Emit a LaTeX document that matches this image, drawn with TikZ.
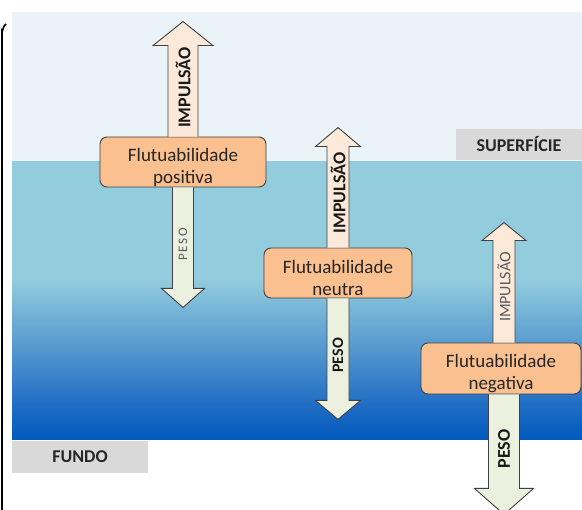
\documentclass[tikz,border=0pt]{standalone}
\usepackage{fontspec}
\setmainfont{Carlito}
\usetikzlibrary{calc}
\definecolor{ceu}{RGB}{234,243,247}
\definecolor{topoazul}{RGB}{146,204,221}
\definecolor{meioazul}{RGB}{82,150,206}
\definecolor{baixoazul}{RGB}{35,112,197}
\definecolor{fundoazul}{RGB}{4,92,190}
\definecolor{caixa}{RGB}{250,192,144}
\definecolor{etiqueta}{RGB}{217,217,217}
\definecolor{sobe}{RGB}{253,233,217}
\definecolor{desce}{RGB}{235,241,222}
\definecolor{borda}{RGB}{64,64,64}
\pgfdeclareverticalshading{agua}{100bp}{color(0bp)=(fundoazul); color(26bp)=(fundoazul); color(32bp)=(baixoazul); color(41bp)=(meioazul); color(54bp)=(topoazul); color(100bp)=(topoazul)}
% seta de forca: base, ponta, meia haste, meia cabeca, base da cabeca, estilo
\newcommand{\seta}[6]{%
\begin{scope}[shift={(#1)}]
\draw[#6] (-#3,0) -- (-#3,#5) -- (-#4,#5) -- (0,#2) -- (#4,#5) -- (#3,#5) -- (#3,0);
\end{scope}}
\newcommand{\desce}{\rule{0pt}{24pt}}

\begin{document}
\begin{tikzpicture}[x=1pt, y=-1pt,
  flut/.style={draw=borda, fill=caixa, rounded corners=7pt, line width=0.9pt, align=center, inner sep=0pt, minimum height=50, text=black!85, font=\fontsize{19}{22}\selectfont},
  nivel/.style={fill=etiqueta, inner sep=0pt, font=\bfseries\fontsize{18}{20}\selectfont, text=black!85},
  forte/.style={rotate=90, font=\bfseries\fontsize{18}{20}\selectfont, text=black!90},
  fraca/.style={rotate=90, text=black!65},
  setasobe/.style={draw=borda, fill=sobe, line width=0.9pt, line join=miter},
  setadesce/.style={draw=borda, fill=desce, line width=0.9pt, line join=miter}]
\useasboundingbox (0,0) rectangle (582,510);
%%%%%%%%% fundo
\fill[ceu] (12,12) rectangle (582,162);
\shade[shading=agua] (12,162) rectangle (582,440);
\draw[line width=1.6pt] (2,510) -- (2,32) to[out=-90,in=200] (6,24);
\node[nivel, minimum width=126, minimum height=31] (sup) at (519,144.5) {SUPERFÍCIE};
\node[nivel, minimum width=136, minimum height=32] (fun) at (80,457) {FUNDO};
%%%%%%%%% caixas
\node[flut, minimum width=166] (b1) at (183,162) {\desce Flutuabilidade\\positiva};
\node[flut, minimum width=148] (b2) at (338,273) {\desce Flutuabilidade\\neutra};
\node[flut, minimum width=160, minimum height=51] (b3) at (501,368.5) {\desce Flutuabilidade\\negativa};
%%%%%%%%% setas
\seta{b1.north}{-115}{15}{30}{-91}{setasobe}
\seta{b1.south}{120}{10.5}{21.5}{101}{setadesce}
\seta{b2.north}{-120}{11}{22.5}{-101}{setasobe}
\seta{b2.south}{121}{11}{22.5}{102}{setadesce}
\seta{$(b3.north)+(3,0)$}{-120}{11}{22}{-102}{setasobe}
\seta{$(b3.south)+(3,0)$}{120}{15.5}{29.5}{94}{setadesce}
\node[forte] (imp1) at ($(b1.north)+(0,-49)$) {IMPULSÃO};
\node[fraca, font=\fontsize{13}{15}\selectfont\addfontfeatures{LetterSpace=12}] (pes1) at ($(b1.south)+(0,57)$) {PESO};
\node[forte] (imp2) at ($(b2.north)+(0,-54.5)$) {IMPULSÃO};
\node[forte, font=\bfseries\fontsize{16}{18}\selectfont] (pes2) at ($(b2.south)+(0,57)$) {PESO};
\node[fraca, font=\fontsize{16}{18}\selectfont] (imp3) at ($(b3.north)+(3,-55.5)$) {IMPULSÃO};
\node[forte] (pes3) at ($(b3.south)+(3,54.5)$) {PESO};
\end{tikzpicture}
\end{document}
